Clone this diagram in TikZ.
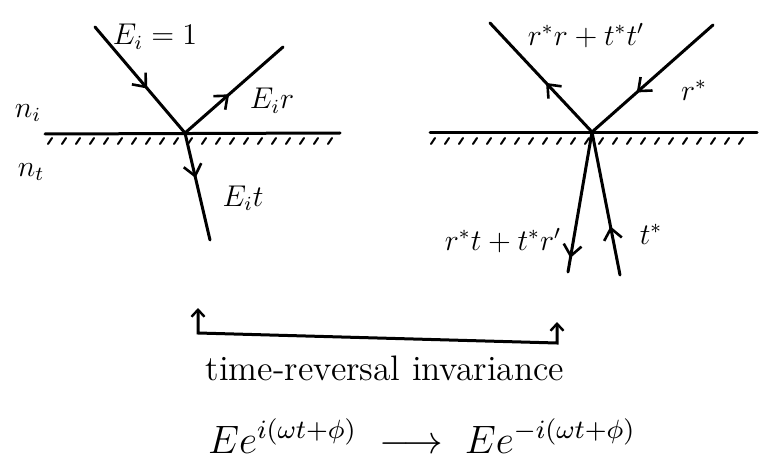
\documentclass[tikz,border=0pt]{standalone}
\usetikzlibrary{arrows.meta,decorations.markings}
\tikzset{
  ray/.style={line width=3pt, line cap=round},
  surf/.style={line width=3pt, line cap=round},
  hatch/.style={line width=2pt, line cap=round},
  midarrow/.style={postaction={decorate}, decoration={markings,
     mark=at position #1 with {\arrow{Straight Barb[length=11pt,width=18pt,line width=2.6pt]}}}},
  lbl/.style={inner sep=0pt, font=\fontsize{12}{14}\selectfont, scale=2.5},
  big/.style={inner sep=0pt, font=\fontsize{12}{14}\selectfont, scale=2.95},
  bigf/.style={inner sep=0pt, font=\fontsize{12}{14}\selectfont, scale=3.3},
}
\begin{document}
\begin{tikzpicture}[x=1pt,y=-1pt]
\useasboundingbox (0,0) rectangle (760,476);
% ---------- left diagram ----------
\coordinate (P1) at (185,133);
\coordinate (Lsl) at (45,134);
\coordinate (Lsr) at (340,133);
\coordinate (Iin) at (95,27);
\coordinate (Rout) at (283,47);
\coordinate (Tout) at (210,240);
\draw[surf] (Lsl) -- (Lsr);
\foreach \x in {52,66,...,332} \draw[hatch] (\x,138) -- (\x-4,144);
\draw[ray, midarrow=0.58] (Iin) -- (P1);
\draw[ray, midarrow=0.45] (P1) -- (Rout);
\draw[ray, midarrow=0.42] (P1) -- (Tout);
\node[lbl] (lEi) at (155,37) {$E_i=1$};
\node[lbl] (lEr) at (272,101) {$E_i r$};
\node[lbl] (lEt) at (243,198) {$E_i t$};
\node[lbl] (lni) at (28,113) {$n_i$};
\node[lbl] (lnt) at (31,172) {$n_t$};
% ---------- right diagram ----------
\coordinate (P2) at (592,132);
\coordinate (Rsl) at (430,133);
\coordinate (Rsr) at (757,133);
\coordinate (UL) at (490,23);
\coordinate (UR) at (713,25);
\coordinate (DL) at (568,272);
\coordinate (DR) at (620,275);
\draw[surf] (Rsl) -- (Rsr);
\foreach \x in {435,449,...,750} \draw[hatch] (\x,138) -- (\x-4,144);
\draw[ray, midarrow=0.45] (P2) -- (UL);
\draw[ray, midarrow=0.63] (UR) -- (P2);
\draw[ray, midarrow=0.9] (P2) -- (DL);
\draw[ray, midarrow=0.34] (DR) -- (P2);
\node[lbl] (l1) at (586,36) {$r^*r+t^*t'$};
\node[lbl] (l2) at (694,90) {$r^*$};
\node[lbl] (l3) at (503,241) {$r^*t+t^*r'$};
\node[lbl] (l4) at (651,234) {$t^*$};
% ---------- bracket ----------
\coordinate (B1) at (198,308);
\coordinate (B2) at (198,333);
\coordinate (B3) at (557,343);
\coordinate (B4) at (557,322);
\draw[ray, {Straight Barb[length=7pt,width=13pt,line width=2.4pt]}-{Straight Barb[length=7pt,width=13pt,line width=2.4pt]}] (B1) -- (B2) -- (B3) -- (B4);
\node[big] (trl) at (385,368) {time-reversal invariance};
\node[bigf] (form) at (422,436) {$Ee^{i(\omega t+\phi)}\;\longrightarrow\; Ee^{-i(\omega t+\phi)}$};
\end{tikzpicture}
\end{document}
